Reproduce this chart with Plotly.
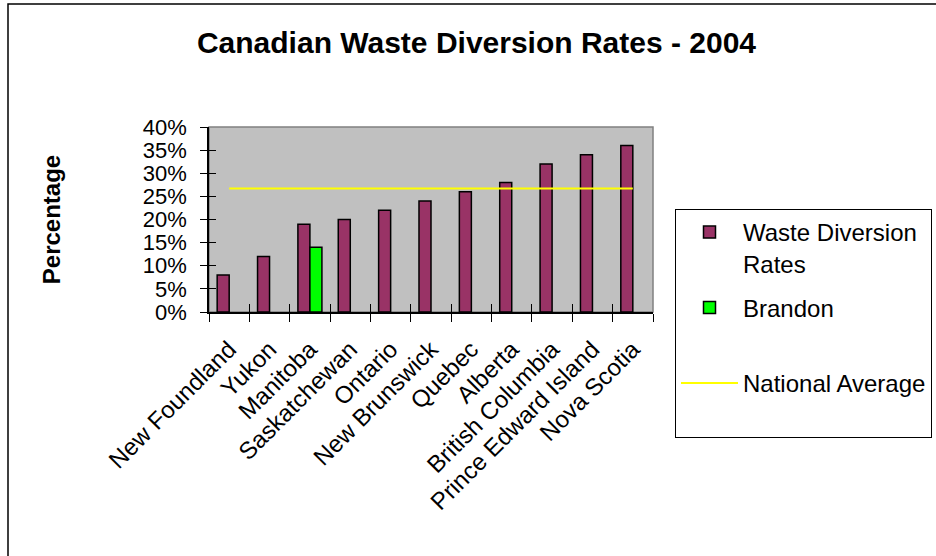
import plotly.graph_objects as go

categories = ["New Foundland", "Yukon", "Manitoba", "Saskatchewan", "Ontario",
              "New Brunswick", "Quebec", "Alberta", "British Columbia",
              "Prince Edward Island", "Nova Scotia"]
waste_diversion = [8, 12, 19, 20, 22, 24, 26, 28, 32, 34, 36]
brandon = [None, None, 14, None, None, None, None, None, None, None, None]
national_average = [26.7] * 11  # constant national average
y_tick_vals = [0, 5, 10, 15, 20, 25, 30, 35, 40]
y_tick_text = ["0%", "5%", "10%", "15%", "20%", "25%", "30%", "35%", "40%"]

FONT = "Liberation Sans, Arial, sans-serif"

fig = go.Figure()
fig.add_trace(go.Bar(
    x=categories, y=waste_diversion, name="Waste Diversion<br>Rates",
    marker=dict(color="#993366", line=dict(color="black", width=1.5)),
    legendgroup="a",
))
fig.add_trace(go.Bar(
    x=categories, y=brandon, name="Brandon<br>&nbsp;",
    marker=dict(color="#00FF00", line=dict(color="black", width=1.5)),
    legendgroup="b",
))
fig.add_trace(go.Scatter(
    x=categories, y=national_average, name="National Average<br>&nbsp;",
    mode="lines", line=dict(color="#FFFF00", width=2),
    xaxis="x2", yaxis="y2", legendgroup="c",
))

fig.update_layout(
    width=936, height=556,
    margin=dict(l=209, r=283, t=127, b=244, autoexpand=False),
    paper_bgcolor="white", plot_bgcolor="#C0C0C0",
    barmode="group", bargap=0.405, bargroupgap=0,
    font=dict(family=FONT, color="black", size=24),
    title=dict(text="Canadian Waste Diversion Rates - 2004",
               font=dict(family=FONT, size=30, weight="bold", color="black"),
               x=476.5 / 936, xref="container", xanchor="center",
               y=1 - 42 / 556, yref="container", yanchor="middle"),
    xaxis=dict(type="category", categoryorder="array", categoryarray=categories,
               range=[-0.5, 10.5], tickson="boundaries", ticks="outside",
               ticklen=8, tickcolor="black", tickwidth=1,
               showline=True, linecolor="black", linewidth=1.5,
               showgrid=False, tickangle=-45, ticklabelstandoff=12,
               tickfont=dict(family=FONT, size=24)),
    xaxis2=dict(type="category", categoryorder="array", categoryarray=categories,
                overlaying="x", anchor="y2", range=[-0.5, 10.5],
                tickson="boundaries", ticks="inside", ticklen=8,
                tickcolor="black", tickwidth=1, showticklabels=False,
                showline=False, showgrid=False),
    yaxis=dict(range=[0, 40], tickvals=y_tick_vals, ticktext=y_tick_text,
               ticks="outside", ticklen=7, tickcolor="black",
               showline=True, linecolor="black", linewidth=1.5,
               showgrid=False, zeroline=False, ticklabelstandoff=9,
               tickfont=dict(family=FONT, size=22),
               title=dict(text="Percentage", standoff=75,
                          font=dict(family=FONT, size=24, weight="bold"))),
    yaxis2=dict(range=[0, 40], overlaying="y", anchor="x2", side="left",
                tickvals=y_tick_vals, ticks="inside", ticklen=7,
                tickcolor="black", showticklabels=False, showline=False,
                showgrid=False, zeroline=False),
    legend=dict(x=(675 - 209) / 444, xanchor="left",
                y=(312 - 209) / 185, yanchor="top",
                bgcolor="white", bordercolor="black", borderwidth=1,
                font=dict(family=FONT, size=24), valign="top",
                traceorder="grouped", tracegroupgap=10, itemwidth=57,
                maxheight=600),
    shapes=[
        dict(type="rect", xref="paper", yref="paper", x0=0, x1=1, y0=0, y1=1,
             line=dict(color="#808080", width=1.5), layer="below"),
        dict(type="rect", xref="paper", yref="paper",
             x0=(8 - 209) / 444, x1=2.5, y0=-2.5, y1=(312 - 4) / 185,
             line=dict(color="black", width=1.5), layer="above"),
    ],
)

fig.write_html("out.html")
